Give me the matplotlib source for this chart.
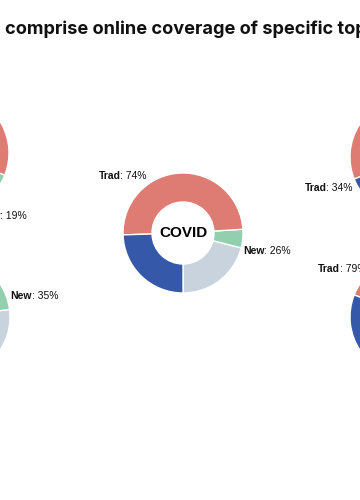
import matplotlib
matplotlib.use('Agg')
import matplotlib.pyplot as plt

W, H = 360, 500

# topics (only the middle one is named inside the visible crop)
topics = ['', '', 'COVID', '', '']
# share of each topic's coverage, split into four parts
trad_a = [55, 40, 49.5, 15, 48]   # red
trad_b = [26, 25, 24.5, 19, 31]   # blue
new_a = [15, 27, 21, 52, 16]      # grey
new_b = [4, 8, 5, 14, 5]          # green

# layout (pixels, y from top)
centers = [(-51, 153), (-50, 317), (183, 233), (410, 157), (410, 317)]
trad_lab = [None, None, (-36, -57), (-57, 31), (-43, -48)]
new_lab = [(30, 63), (60, -21), (60, 18), None, None]

RED = '#DE7B72'
BLUE = '#3559A8'
GREY = '#C9D3DE'
GREEN = '#92CFAE'

fig = plt.figure(figsize=(W / 100, H / 100), dpi=100)
ax = fig.add_axes([0, 0, 1, 1])


def two_part_label(x, y, head, tail, right):
    # bold head + regular tail, like "Trad: 74%"
    kw = dict(fontsize=7.5, family='Liberation Sans', color='#111111')
    if right:
        t = ax.text(x, y, tail, ha='right', va='center', **kw)
        ax.annotate(head, xy=(0, 0), xycoords=t, ha='right', va='bottom',
                    fontweight='bold', **kw)
    else:
        t = ax.text(x, y, head, ha='left', va='center', fontweight='bold', **kw)
        ax.annotate(tail, xy=(1, 0), xycoords=t, ha='left', va='bottom', **kw)


for i in range(len(topics)):
    cx, cy = centers[i]
    cy = H - cy
    vals = [new_a[i], new_b[i], trad_a[i], trad_b[i]]
    ax.pie(vals, colors=[GREY, GREEN, RED, BLUE], startangle=270,
           counterclock=True, radius=60, center=(cx, cy), frame=True,
           wedgeprops=dict(width=29, edgecolor='white', linewidth=1))
    if topics[i]:
        ax.text(cx, cy, topics[i], ha='center', va='center', fontsize=11,
                fontweight='bold', family='Liberation Sans')
    trad = trad_a[i] + trad_b[i]
    new = new_a[i] + new_b[i]
    if trad_lab[i]:
        dx, dy = trad_lab[i]
        two_part_label(cx + dx, cy - dy, 'Trad', ': %d%%' % round(trad), True)
    if new_lab[i]:
        dx, dy = new_lab[i]
        two_part_label(cx + dx, cy - dy, 'New', ': %d%%' % round(new), False)

ax.text(5, H - 34, 'comprise online coverage of specific topics', ha='left',
        va='baseline', fontsize=13.1, fontweight='bold', family='Inter',
        color='#111111')

ax.set_xlim(0, W)
ax.set_ylim(0, H)
ax.set_aspect('equal')
ax.axis('off')

fig.savefig('out.png', dpi=100)
